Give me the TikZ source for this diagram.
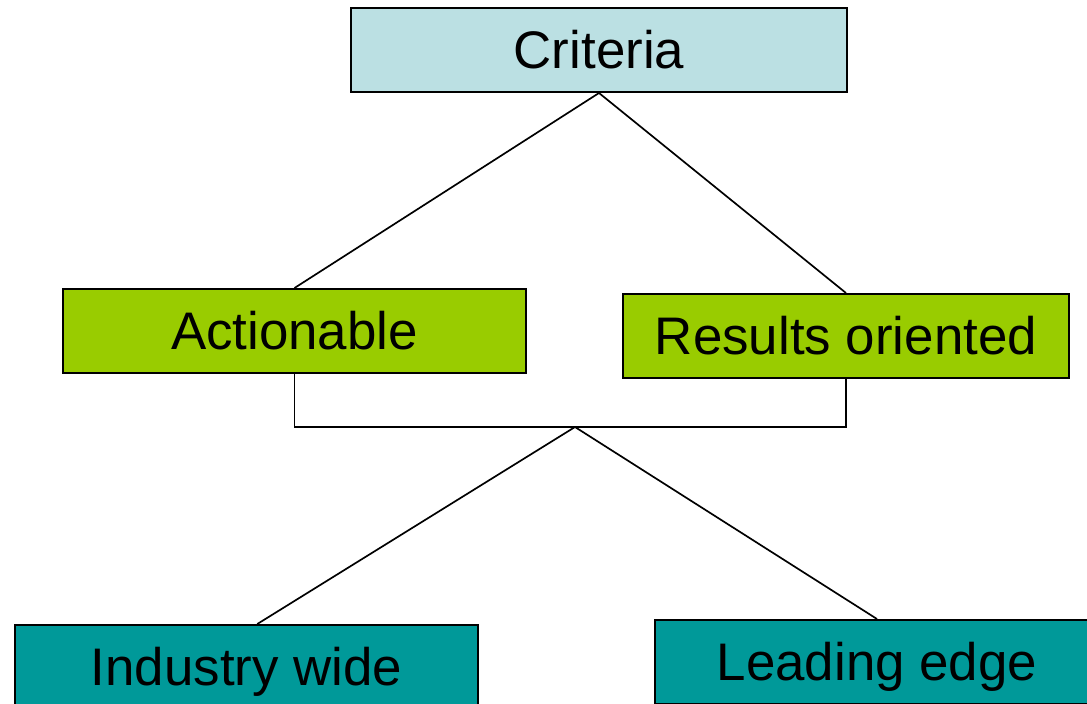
\documentclass[tikz,border=0pt]{standalone}
\usepackage{fontspec}
\setmainfont{Liberation Sans}
\usepackage{xcolor}
\usetikzlibrary{positioning}
\definecolor{critblue}{RGB}{187,224,227}
\definecolor{midgreen}{RGB}{153,204,0}
\definecolor{deepteal}{RGB}{0,153,153}
\tikzstyle{cbox}=[rectangle, draw=black, line width=1.4pt,
  font=\fontsize{37.6}{45}\selectfont, text centered,
  text height=26.9pt, text depth=0pt,
  minimum height=2.1cm, inner sep=0pt]
\tikzstyle{link}=[line width=1.2pt, color=black]

\begin{document}
\begin{tikzpicture}[x=0.025cm, y=-0.025cm]
        \useasboundingbox (0,0) rectangle (1087,704);
        \clip (0,0) rectangle (1087,704);
        \node[cbox, fill=critblue, minimum width=12.4cm]
          (crit) at (599,50) {Criteria};
        \node[cbox, fill=midgreen, minimum width=11.575cm]
          (act) at (294.5,331) {Actionable};
        \node[cbox, fill=midgreen, minimum width=11.15cm]
          (res) at (846,336) {Results oriented};
        \node[cbox, fill=deepteal, minimum width=11.575cm]
          (ind) at (246.5,667) {Industry wide};
        \node[cbox, fill=deepteal, minimum width=11.1cm]
          (lead) at (877,662) {Leading edge};
        \coordinate (join) at (575,427);
        \draw[link] (crit.south) -- (act.north);
        \draw[link] (crit.south) -- (res.north);
        \draw[link] (act.south) |- (join) -| (res.south);
        \draw[link] (join) -- ([xshift=0.27cm]ind.north);
        \draw[link] (join) -- (lead.north);
      \end{tikzpicture}
\end{document}
